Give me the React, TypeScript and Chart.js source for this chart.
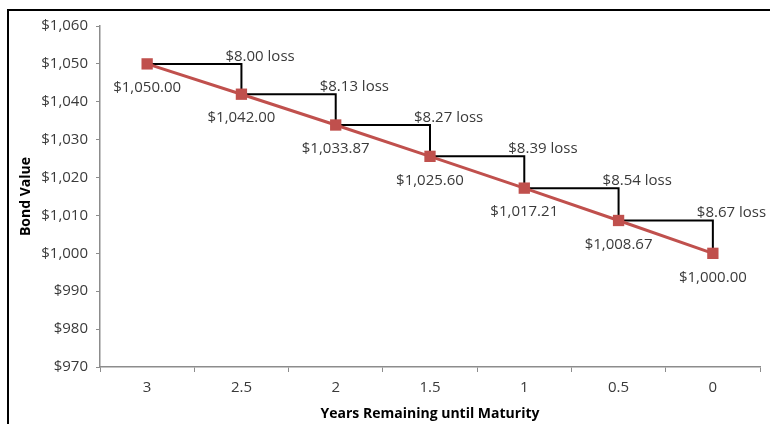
import React, { useEffect, useRef } from "react";
import { Chart, registerables } from "chart.js";

Chart.register(...registerables);

const categories = ["3", "2.5", "2", "1.5", "1", "0.5", "0"];
const bondValues = [1050.0, 1042.0, 1033.87, 1025.6, 1017.21, 1008.67, 1000.0];
const valueLabels = ["$1,050.00", "$1,042.00", "$1,033.87", "$1,025.60", "$1,017.21", "$1,008.67", "$1,000.00"];
const lossLabels = ["$8.00 loss", "$8.13 loss", "$8.27 loss", "$8.39 loss", "$8.54 loss", "$8.67 loss"];
const yMin = 970;
const yMax = 1060;
const yStep = 10;

const FONT = "'Open Sans', 'Noto Sans', sans-serif";
const TEXT = "#3a3a3a";
const AXIS = "#8c8c8c";

const labelsPlugin = {
  id: "labelsPlugin",
  afterDatasetsDraw(chart: any) {
    const ctx = chart.ctx;
    const pts = chart.getDatasetMeta(0).data;
    ctx.save();
    ctx.font = `15px ${FONT}`;
    ctx.fillStyle = TEXT;
    ctx.textAlign = "center";
    ctx.textBaseline = "middle";
    pts.forEach((p: any, i: number) => {
      ctx.fillText(valueLabels[i], p.x, p.y + 24);
    });
    ctx.textAlign = "left";
    ctx.textBaseline = "alphabetic";
    for (let i = 0; i < lossLabels.length; i++) {
      const cx = pts[i + 1].x;
      const cy = pts[i].y;
      ctx.fillText(lossLabels[i], cx - 16, cy - 3);
    }
    ctx.restore();
  },
  afterDraw(chart: any) {
    const ctx = chart.ctx;
    ctx.save();
    ctx.strokeStyle = "#000";
    ctx.lineWidth = 2;
    ctx.beginPath();
    ctx.moveTo(8, 424);
    ctx.lineTo(8, 10);
    ctx.lineTo(770, 10);
    ctx.stroke();
    ctx.restore();
  },
};

export default function App() {
  const ref = useRef<HTMLCanvasElement | null>(null);
  useEffect(() => {
    if (!ref.current) return;
    const chart = new Chart(ref.current, {
      type: "line",
      data: {
        labels: categories,
        datasets: [
          {
            label: "Bond Value",
            data: bondValues,
            borderColor: "#C0504D",
            backgroundColor: "#C0504D",
            borderWidth: 3,
            pointStyle: "rect",
            pointRadius: 8,
            pointBorderWidth: 0,
            pointBackgroundColor: "#C0504D",
            tension: 0,
            order: 0,
          },
          {
            label: "Steps",
            data: bondValues,
            borderColor: "#000000",
            borderWidth: 2,
            stepped: "before",
            pointRadius: 0,
            fill: false,
            order: 1,
          },
        ],
      },
      options: {
        animation: false,
        responsive: true,
        maintainAspectRatio: false,
        layout: { padding: { left: 0, top: 26, right: 10, bottom: 0 } },
        plugins: {
          legend: { display: false },
          tooltip: { enabled: false },
          title: { display: false },
        },
        scales: {
          x: {
            type: "category",
            offset: true,
            grid: {
              display: true,
              offset: true,
              drawOnChartArea: false,
              drawTicks: true,
              tickLength: 5,
              color: AXIS,
            },
            border: { display: true, color: AXIS, width: 1.5 },
            ticks: {
              color: TEXT,
              font: { family: FONT, size: 15 },
              padding: 7,
              maxRotation: 0,
            },
            title: {
              display: true,
              text: "Years Remaining until Maturity",
              color: "#000",
              font: { family: FONT, size: 14, weight: "bold" },
              padding: { top: 0, bottom: 2 },
            },
            afterFit(scale: any) {
              scale.height = 57;
            },
          },
          y: {
            min: yMin,
            max: yMax,
            grid: {
              display: true,
              drawOnChartArea: false,
              drawTicks: true,
              tickLength: 4,
              color: AXIS,
            },
            border: { display: true, color: AXIS, width: 1.5 },
            ticks: {
              stepSize: yStep,
              color: TEXT,
              font: { family: FONT, size: 15 },
              padding: 8,
              callback: (v: any) => "$" + Number(v).toLocaleString("en-US"),
            },
            title: {
              display: true,
              text: "Bond Value",
              color: "#000",
              font: { family: FONT, size: 14, weight: "bold" },
              padding: { top: 18, bottom: 0 },
            },
            afterFit(scale: any) {
              scale.width = 100;
            },
          },
        },
      },
      plugins: [labelsPlugin],
    });
    return () => chart.destroy();
  }, []);
  return (
    <div style={{ position: "absolute", left: 0, top: 0, width: 770, height: 424, background: "#fff" }}>
      <canvas ref={ref} />
    </div>
  );
}
